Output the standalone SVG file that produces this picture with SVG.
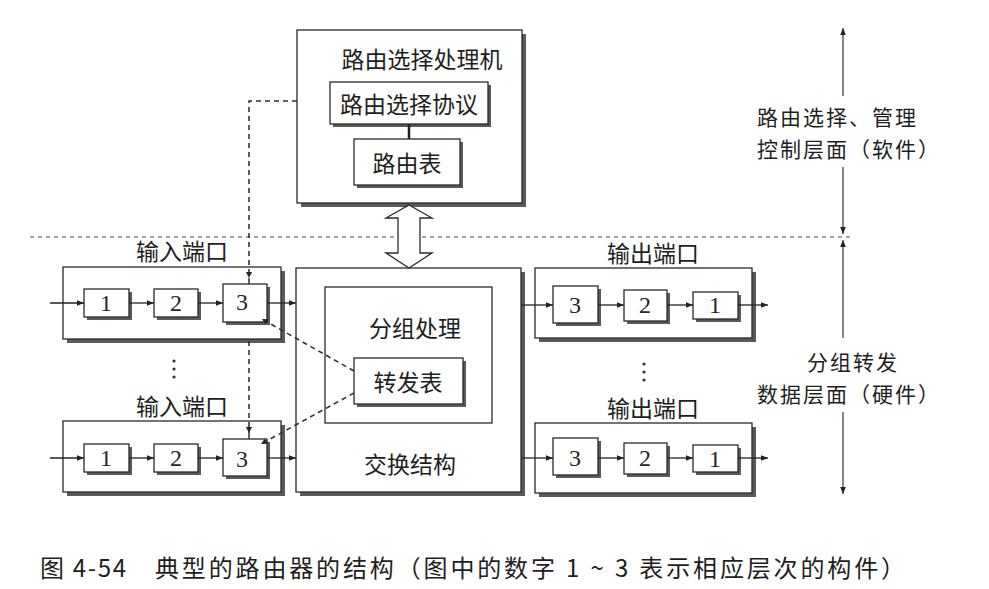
<svg xmlns="http://www.w3.org/2000/svg" width="989" height="589" viewBox="0 0 989 589">
  <defs>
    <marker id="ah" viewBox="0 0 10 10" refX="10" refY="5" markerWidth="7" markerHeight="7" markerUnits="userSpaceOnUse" orient="auto">
      <path d="M0,1 L10,5 L0,9 Z" fill="#222"/>
    </marker>
    <marker id="ahs" viewBox="0 0 10 10" refX="10" refY="5" markerWidth="6" markerHeight="6" markerUnits="userSpaceOnUse" orient="auto">
      <path d="M0,0 L10,5 L0,10 Z" fill="#222"/>
    </marker>
  </defs>
  <style>
    .sh { fill: #5a5a5a; }
    .box { fill: #fff; stroke: #2a2a2a; stroke-width: 1.3; }
    .cn { font-family: "Noto Sans CJK SC", "Noto Sans", sans-serif; font-size: 23px; font-weight: 400; fill: #1e1e1e; text-anchor: middle; dominant-baseline: central; }
    .side { font-size: 21px; letter-spacing: 2px; text-anchor: start; }
    .num { font-family: "Liberation Serif", "DejaVu Serif", serif; font-size: 24px; fill: #262626; text-anchor: middle; dominant-baseline: central; }
    .flow { stroke: #222; stroke-width: 1.3; fill: none; marker-end: url(#ah); }
    .dash { stroke: #333; stroke-width: 1.6; fill: none; stroke-dasharray: 5 4; }
    .dot { stroke: #444; stroke-width: 1; fill: none; stroke-dasharray: 4 4; }
    .axis { stroke: #333; stroke-width: 1.2; fill: none; marker-end: url(#ah); }
  </style>
  <rect width="989" height="589" fill="#fff"/>

  <!-- plane separator -->
  <line class="dot" x1="30" y1="237" x2="852" y2="237"/>

  <!-- routing processor -->
  <g id="routing-processor">
    <rect class="sh" x="301" y="34" width="225" height="173"/>
    <rect class="box" x="297" y="30" width="225" height="173"/>
    <text class="cn" x="422" y="58">路由选择处理机</text>
  </g>
  <g id="routing-protocol">
    <rect class="sh" x="333" y="85" width="158" height="42"/>
    <rect class="box" x="330" y="82" width="158" height="42"/>
    <text class="cn" x="409" y="103">路由选择协议</text>
  </g>
  <g id="routing-table">
    <rect class="sh" x="357" y="142" width="106" height="46"/>
    <rect class="box" x="354" y="139" width="106" height="46"/>
    <text class="cn" x="407" y="162">路由表</text>
  </g>

  <!-- switching fabric -->
  <g id="switch-fabric">
    <rect class="sh" x="300" y="272" width="225" height="224"/>
    <rect class="box" x="296" y="268" width="225" height="224"/>
    <text class="cn" x="410" y="463">交换结构</text>
  </g>
  <g id="packet-processing">
    <rect class="box" x="325" y="287" width="167" height="136"/>
    <text class="cn" x="415" y="327">分组处理</text>
  </g>
  <g id="forwarding-table">
    <rect class="sh" x="357" y="361" width="109" height="46"/>
    <rect class="box" x="354" y="358" width="109" height="46"/>
    <text class="cn" x="408" y="381">转发表</text>
  </g>

  <!-- input ports -->
  <g id="input-port-1">
    <text class="cn" x="182" y="250">输入端口</text>
    <rect class="sh" x="67" y="271" width="218" height="72"/>
    <rect class="box" x="63" y="267" width="218" height="72"/>
    <rect class="sh" x="87" y="292" width="45" height="28"/>
    <rect class="box" x="84" y="289" width="45" height="28"/>
    <text class="num" x="106" y="303">1</text>
    <rect class="sh" x="157" y="292" width="44" height="28"/>
    <rect class="box" x="154" y="289" width="44" height="28"/>
    <text class="num" x="176" y="303">2</text>
    <rect class="sh" x="226" y="287" width="44" height="38"/>
    <rect class="box" x="223" y="284" width="44" height="38"/>
    <text class="num" x="242" y="302">3</text>
  </g>
  <g id="input-port-n">
    <text class="cn" x="182" y="405">输入端口</text>
    <rect class="sh" x="67" y="425" width="218" height="71"/>
    <rect class="box" x="63" y="421" width="218" height="71"/>
    <rect class="sh" x="87" y="447" width="45" height="28"/>
    <rect class="box" x="84" y="444" width="45" height="28"/>
    <text class="num" x="106" y="458">1</text>
    <rect class="sh" x="157" y="447" width="44" height="28"/>
    <rect class="box" x="154" y="444" width="44" height="28"/>
    <text class="num" x="176" y="458">2</text>
    <rect class="sh" x="226" y="442" width="44" height="37"/>
    <rect class="box" x="223" y="439" width="44" height="37"/>
    <text class="num" x="242" y="459">3</text>
  </g>
  <g id="input-ellipsis" fill="#333">
    <circle cx="174" cy="361" r="1.6"/>
    <circle cx="174" cy="369" r="1.6"/>
    <circle cx="174" cy="377" r="1.6"/>
  </g>

  <!-- output ports -->
  <g id="output-port-1">
    <text class="cn" x="653" y="252">输出端口</text>
    <rect class="sh" x="539" y="272" width="217" height="70"/>
    <rect class="box" x="535" y="268" width="217" height="70"/>
    <rect class="sh" x="556" y="289" width="45" height="37"/>
    <rect class="box" x="553" y="286" width="45" height="37"/>
    <text class="num" x="575" y="305">3</text>
    <rect class="sh" x="627" y="293" width="43" height="31"/>
    <rect class="box" x="624" y="290" width="43" height="31"/>
    <text class="num" x="645" y="305">2</text>
    <rect class="sh" x="696" y="295" width="45" height="27"/>
    <rect class="box" x="693" y="292" width="45" height="27"/>
    <text class="num" x="715" y="305">1</text>
  </g>
  <g id="output-port-n">
    <text class="cn" x="653" y="407">输出端口</text>
    <rect class="sh" x="539" y="427" width="217" height="70"/>
    <rect class="box" x="535" y="423" width="217" height="70"/>
    <rect class="sh" x="556" y="441" width="45" height="37"/>
    <rect class="box" x="553" y="438" width="45" height="37"/>
    <text class="num" x="575" y="458">3</text>
    <rect class="sh" x="627" y="446" width="43" height="31"/>
    <rect class="box" x="624" y="443" width="43" height="31"/>
    <text class="num" x="645" y="458">2</text>
    <rect class="sh" x="696" y="448" width="45" height="27"/>
    <rect class="box" x="693" y="445" width="45" height="27"/>
    <text class="num" x="715" y="459">1</text>
  </g>
  <g id="output-ellipsis" fill="#333">
    <circle cx="644" cy="364" r="1.6"/>
    <circle cx="644" cy="372" r="1.6"/>
    <circle cx="644" cy="380" r="1.6"/>
  </g>

  <!-- connectors -->
  <g id="connectors">
    <!-- protocol to routing table -->
    <line x1="409" y1="124" x2="409" y2="139" stroke="#222" stroke-width="2.5"/>
    <!-- processor <-> switching fabric -->
    <polygon points="409,205 432,218 420,218 420,253 432,253 409,268 386,253 398,253 398,218 386,218" fill="#fff" stroke="#2a2a2a" stroke-width="1.3"/>

    <!-- input port 1 packet flow -->
    <line class="flow" x1="50" y1="303" x2="84" y2="303"/>
    <line class="flow" x1="129" y1="303" x2="154" y2="303"/>
    <line class="flow" x1="198" y1="303" x2="223" y2="303"/>
    <line class="flow" x1="267" y1="303" x2="296" y2="303"/>
    <!-- input port n packet flow -->
    <line class="flow" x1="50" y1="458" x2="84" y2="458"/>
    <line class="flow" x1="129" y1="458" x2="154" y2="458"/>
    <line class="flow" x1="198" y1="458" x2="223" y2="458"/>
    <line class="flow" x1="267" y1="458" x2="296" y2="458"/>
    <!-- output port 1 packet flow -->
    <line class="flow" x1="521" y1="305" x2="553" y2="305"/>
    <line class="flow" x1="598" y1="305" x2="624" y2="305"/>
    <line class="flow" x1="667" y1="305" x2="693" y2="305"/>
    <line class="flow" x1="738" y1="305" x2="768" y2="305"/>
    <!-- output port n packet flow -->
    <line class="flow" x1="521" y1="458" x2="553" y2="458"/>
    <line class="flow" x1="598" y1="458" x2="624" y2="458"/>
    <line class="flow" x1="667" y1="458" x2="693" y2="458"/>
    <line class="flow" x1="738" y1="458" x2="768" y2="458"/>

    <!-- routing information pushed to the line cards -->
    <polyline class="dash" points="297,101 249,101 249,278" marker-end="url(#ahs)"/>
    <line class="dash" x1="249" y1="341" x2="249" y2="433" marker-end="url(#ahs)"/>
    <line x1="249" y1="278" x2="249" y2="284" stroke="#222" stroke-width="1.4"/>
    <line x1="249" y1="433" x2="249" y2="439" stroke="#222" stroke-width="1.4"/>

    <!-- forwarding table lookups -->
    <line class="dash" x1="354" y1="371" x2="262" y2="319" marker-end="url(#ahs)"/>
    <line class="dash" x1="354" y1="393" x2="261" y2="444" marker-end="url(#ahs)"/>

    <!-- plane axis -->
    <line class="axis" x1="843" y1="96" x2="843" y2="28"/>
    <line class="axis" x1="843" y1="167" x2="843" y2="234"/>
    <line class="axis" x1="843" y1="338" x2="843" y2="240"/>
    <line class="axis" x1="843" y1="412" x2="843" y2="494"/>
  </g>

  <!-- plane labels -->
  <g id="control-plane-label">
    <text class="cn side" x="757" y="116">路由选择、管理</text>
    <text class="cn side" x="757" y="148">控制层面（软件）</text>
  </g>
  <g id="data-plane-label">
    <text class="cn side" x="807" y="361">分组转发</text>
    <text class="cn side" x="757" y="393">数据层面（硬件）</text>
  </g>

  <!-- caption -->
  <g id="caption">
    <text class="cn" x="40" y="566" style="text-anchor:start;font-size:24px" textLength="86" lengthAdjust="spacing">图 4-54</text>
    <text class="cn" x="155" y="566" style="text-anchor:start;font-size:24px" textLength="750" lengthAdjust="spacing">典型的路由器的结构（图中的数字 1 ~ 3 表示相应层次的构件）</text>
  </g>
</svg>
